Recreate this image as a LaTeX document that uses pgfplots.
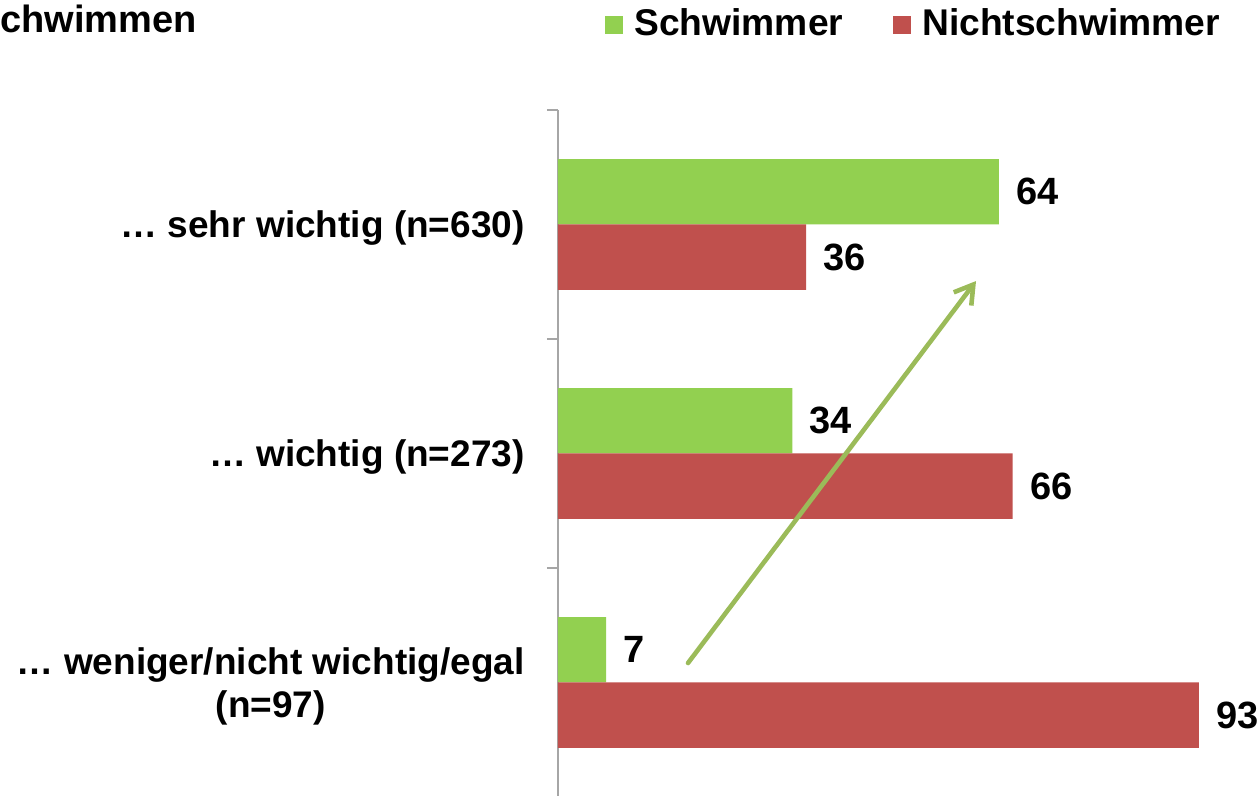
\documentclass[border=0pt]{standalone}
\usepackage{pgfplots}
\pgfplotsset{compat=1.18}
\usepackage{fontspec}
\setmainfont{Liberation Sans}
\usetikzlibrary{arrows.meta}
\definecolor{barG}{RGB}{146,208,80}
\definecolor{barR}{RGB}{192,80,77}
\definecolor{arrG}{RGB}{155,187,89}
\definecolor{axG}{RGB}{166,166,166}
\newcommand{\lf}{\fontsize{19}{21.5}\selectfont\bfseries}
\newcommand{\gf}{\fontsize{18.6}{21.5}\selectfont\bfseries}
\newcommand{\tf}{\fontsize{18.5}{21.5}\selectfont\bfseries}
\pgfplotsset{sqlegend/.style={legend image code/.code={\fill[##1] (0pt,-5.5pt) rectangle (9pt,3.5pt);}}}
\begin{document}
\begin{tikzpicture}
\path[use as bounding box] (0,0) rectangle (629.5pt,398pt);
\begin{axis}[
  at={(279pt,-0.5pt)}, anchor=south west,
  scale only axis, width=344.5pt, height=343.5pt,
  xmin=0, xmax=100, ymin=-0.5, ymax=2.5,
  hide x axis,
  axis y line*=left,
  y axis line style={draw=axG, line width=0.8pt},
  ytick={0,1,2},
  yticklabels={{… weniger/nicht wichtig/egal\\(n=97)},{… wichtig (n=273)},{… sehr wichtig (n=630)}},
  major tick length=0pt,
  minor ytick={-0.5,0.5,1.5,2.5},
  minor tick length=5.5pt,
  tick align=outside,
  ytick style={draw=axG, line width=0.8pt},
  yticklabel style={font=\tf, align=center, inner sep=0pt, xshift=-16.5pt, yshift=-2pt},
  clip=false,
  /pgf/number format/assume math mode=true,
  every axis title shift=0pt,
  title={chwimmen},
  title style={at={(-0.8099,1.1135)}, anchor=base west, inner sep=0pt, font=\lf},
  legend style={draw=none, fill=none, inner sep=0pt, at={(0.0682,1.1261)}, anchor=west,
    font=\gf, nodes={inner sep=0pt}, column sep=5.5pt,
    /tikz/every even column/.append style={column sep=25pt}},
  legend cell align=left,
  legend columns=2,
]
\addplot[xbar, bar width=0.285, bar shift=0.1425, fill=barG, draw=none, sqlegend,
  nodes near coords,
  nodes near coords style={font=\lf, text=black, anchor=west, inner sep=0pt, xshift=8.5pt, yshift=16.3pt}]
  coordinates {(7,0) (34,1) (64,2)};
\addlegendentry{Schwimmer}
\addplot[xbar, bar width=0.285, bar shift=-0.1425, fill=barR, draw=none, sqlegend,
  nodes near coords,
  nodes near coords style={font=\lf, text=black, anchor=west, inner sep=0pt, xshift=8.5pt, yshift=-16.3pt}]
  coordinates {(93,0) (66,1) (36,2)};
\addlegendentry{Nichtschwimmer}
\addplot[arrG, line width=2.3pt, line cap=round, -{Straight Barb[length=9pt,width=11pt]}, forget plot]
  coordinates {(18.87,0.085) (60.67,1.753)};
\end{axis}
\end{tikzpicture}
\end{document}
